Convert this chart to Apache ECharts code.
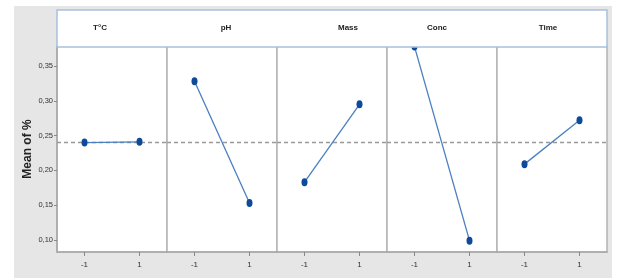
<!DOCTYPE html>
<html>
<head>
<meta charset="utf-8">
<script src="https://cdn.jsdelivr.net/npm/echarts@6/dist/echarts.min.js"></script>
<style>
  html, body { margin: 0; padding: 0; background: #fff; }
  #main { width: 617px; height: 280px; }
</style>
</head>
<body>
<div id="main"></div>
<script>
let myChart = echarts.init(document.getElementById('main'));

// factors, levels and mean responses
const factors = ['T°C', 'pH', 'Mass', 'Conc', 'Time'];
const levels = [-1, 1];
const meansT = [0.240, 0.241];
const meansPH = [0.328, 0.153];
const meansMass = [0.183, 0.295];
const meansConc = [0.378, 0.099];
const meansTime = [0.209, 0.272];
const grandMean = 0.2415;
const yTicks = [0.10, 0.15, 0.20, 0.25, 0.30, 0.35];
const allMeans = [meansT, meansPH, meansMass, meansConc, meansTime];

const panelLeft = 57;
const panelW = 110;
const plotTop = 46;
const plotH = 206;
const yMin = 0.0827;
const yMax = 0.3788;
const labelX = [100, 226, 348, 437, 548];

const grids = [], xAxes = [], yAxes = [], series = [];
factors.forEach(function (f, i) {
  grids.push({
    left: panelLeft + i * panelW,
    top: plotTop,
    width: panelW,
    height: plotH,
    show: true,
    backgroundColor: '#fff',
    borderColor: '#b4b4b4',
    borderWidth: 1.5
  });
  xAxes.push({
    type: 'value',
    gridIndex: i,
    min: -2,
    max: 2,
    axisLine: { show: true, onZero: false, lineStyle: { color: '#a8a8a8', width: 1.5 } },
    axisTick: { show: true, customValues: levels, length: 4, lineStyle: { color: '#888' } },
    axisLabel: {
      customValues: levels,
      fontSize: 8,
      color: '#333',
      fontFamily: 'Liberation Sans Narrow, Liberation Sans, sans-serif',
      margin: 9
    },
    splitLine: { show: false }
  });
  yAxes.push({
    type: 'value',
    gridIndex: i,
    min: yMin,
    max: yMax,
    axisLine: { show: i === 0, onZero: false, lineStyle: { color: '#a8a8a8', width: 1.5 } },
    axisTick: { show: i === 0, customValues: yTicks, length: 3, lineStyle: { color: '#888' } },
    axisLabel: {
      show: i === 0,
      customValues: yTicks,
      fontSize: 7.5,
      color: '#333',
      margin: 4,
      fontFamily: 'Liberation Sans Narrow, Liberation Sans, sans-serif',
      formatter: function (v) { return v.toFixed(2).replace('.', ','); }
    },
    name: i === 0 ? 'Mean of %' : '',
    nameLocation: 'middle',
    nameGap: 23,
    nameTextStyle: { fontSize: 12, fontWeight: 'bold', color: '#222', fontFamily: 'Liberation Sans, Arial, sans-serif' },
    splitLine: { show: false }
  });
  series.push({
    type: 'line',
    xAxisIndex: i,
    yAxisIndex: i,
    data: levels.map(function (l, k) { return [l, allMeans[i][k]]; }),
    symbol: 'circle',
    symbolSize: [6, 8],
    itemStyle: { color: '#0d4a9a' },
    lineStyle: { color: '#4a7fc0', width: 1.3 },
    clip: false,
    z: 3,
    markLine: {
      silent: true,
      symbol: 'none',
      label: { show: false },
      lineStyle: { color: '#999', type: [4, 3], width: 1.3 },
      data: [{ yAxis: grandMean }],
      z: 2
    }
  });
});

const graphics = [
  {
    type: 'rect',
    shape: { x: 14, y: 6, width: 598, height: 272 },
    style: { fill: '#e6e6e6' },
    z: -10
  },
  {
    type: 'rect',
    shape: { x: panelLeft, y: 10, width: panelW * 5, height: plotTop - 9 },
    style: { fill: '#fff', stroke: '#a9c0dd', lineWidth: 1.5 },
    z: 100
  }
];
factors.forEach(function (f, i) {
  graphics.push({
    type: 'text',
    x: labelX[i],
    y: 28,
    style: {
      text: f,
      fontSize: 8,
      fontWeight: 'bold',
      fill: '#222',
      fontFamily: 'Liberation Sans, Arial, sans-serif',
      align: 'center',
      verticalAlign: 'middle'
    },
    z: 101
  });
});

let option = {
  animation: false,
  backgroundColor: '#fff',
  grid: grids,
  xAxis: xAxes,
  yAxis: yAxes,
  series: series,
  graphic: graphics
};

myChart.setOption(option);
</script>
</body>
</html>
